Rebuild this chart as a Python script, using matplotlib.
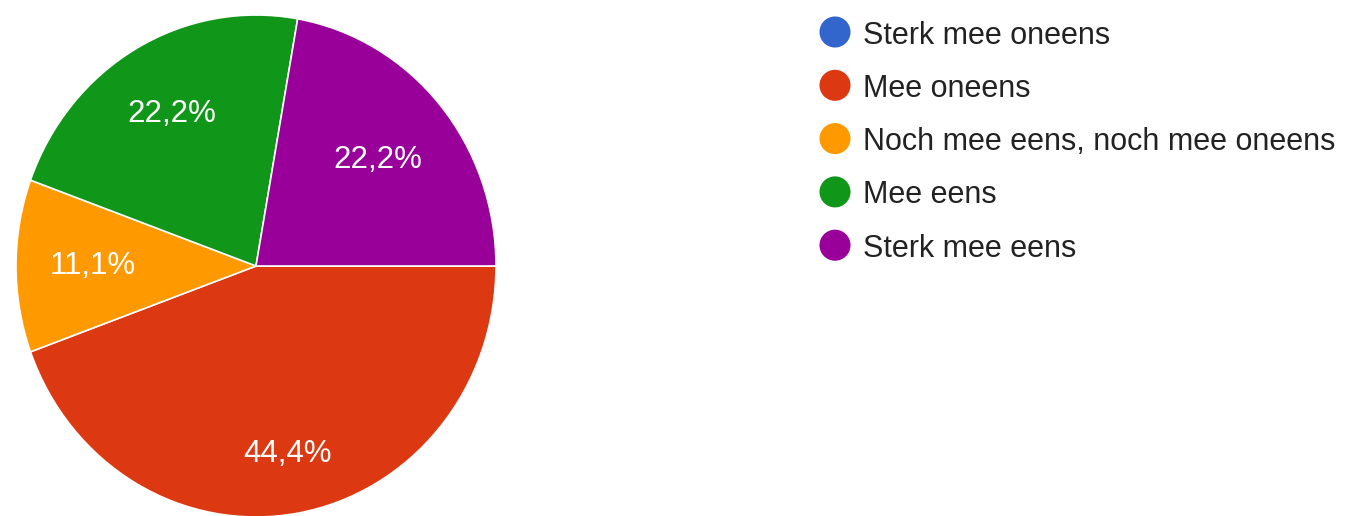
import matplotlib
matplotlib.use("Agg")
import matplotlib.pyplot as plt
import numpy as np

categories = ["Sterk mee oneens", "Mee oneens", "Noch mee eens, noch mee oneens",
              "Mee eens", "Sterk mee eens"]
counts = [0, 4, 1, 2, 2]
colors = ["#3366CC", "#DC3912", "#FF9900", "#109618", "#990099"]
label_dist = [0.7, 0.76, 0.68, 0.70, 0.66]

plt.rcParams['font.family'] = ['Liberation Sans', 'DejaVu Sans']

W, H = 1368, 516
fig = plt.figure(figsize=(W / 100, H / 100), dpi=100)

ax = fig.add_axes([16 / W, -1 / H, 480 / W, 502 / H])
total = sum(counts)
wedges, _ = ax.pie(counts, colors=colors, startangle=0, counterclock=False,
                   radius=1.0, wedgeprops=dict(edgecolor="white", linewidth=1.2))
ax.set_aspect('auto')
ax.set_xlim(-1, 1)
ax.set_ylim(-1, 1)

for w, c, d in zip(wedges, counts, label_dist):
    if c == 0:
        continue
    mid = np.deg2rad((w.theta1 + w.theta2) / 2)
    pct = 100 * c / total
    txt = f"{pct:.1f}%".replace(".", ",")
    ax.text(d * np.cos(mid), d * np.sin(mid), txt, color="white",
            fontsize=22.5, ha="center", va="center")

# legend (manual, pixel coords)
lax = fig.add_axes([0, 0, 1, 1])
lax.set_xlim(0, W)
lax.set_ylim(H, 0)
lax.axis("off")
ys = [32 + i * 53.3 for i in range(len(categories))]
lax.scatter([835] * len(categories), ys, s=500, c=colors, edgecolors="none")
for y, cat in zip(ys, categories):
    lax.text(863, y + 11.5, cat, fontsize=22, color="#222222", ha="left", va="baseline")

fig.savefig("out.png", dpi=100)
